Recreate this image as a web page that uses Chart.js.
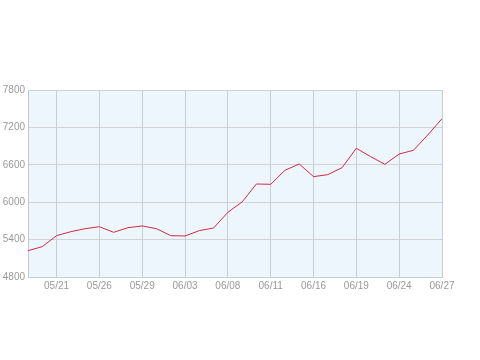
<!DOCTYPE html>
<html><head><meta charset="utf-8">
<script src="https://cdn.jsdelivr.net/npm/chart.js@4"></script>
<style>html,body{margin:0;padding:0;background:#fff;}canvas{display:block;}</style>
</head><body>
<canvas id="c" width="480" height="360"></canvas>
<script>
const dates = ['05/19','05/20','05/21','05/22','05/25','05/26','05/27','05/28','05/29','06/01',
  '06/02','06/03','06/04','06/05','06/08','06/09','06/10','06/11','06/12','06/15',
  '06/16','06/17','06/18','06/19','06/22','06/23','06/24','06/25','06/26','06/27'];
const values = [5222,5287,5463,5527,5575,5607,5517,5591,5619,5575,
  5463,5458,5544,5586,5838,6004,6292,6287,6512,6613,
  6410,6442,6554,6865,6731,6608,6773,6833,7078,7340];
const yTicks = [4800,5400,6000,6600,7200,7800];

const bgPlugin = {
  id:'bg',
  beforeDraw(chart){
    const a = chart.chartArea, ctx = chart.ctx;
    ctx.save(); ctx.fillStyle = '#eef6fd';
    ctx.fillRect(a.left, a.top, a.right-a.left, a.bottom-a.top);
    ctx.restore();
  }
};
const isTick = i => i % 3 === 2;
new Chart(document.getElementById('c'), {
  type:'line',
  data:{labels:dates, datasets:[{data:values, borderColor:'#d42a3c', borderWidth:1, pointRadius:0, tension:0, fill:false}]},
  options:{
    responsive:false, animation:false,
    layout:{padding:{left:0, right:38, top:90, bottom:65}},
    plugins:{legend:{display:false}, tooltip:{enabled:false}},
    scales:{
      x:{
        offset:false,
        grid:{color:(c)=> (c.index!==undefined && isTick(c.index)) ? '#c9ced6' : 'rgba(0,0,0,0)', drawTicks:false, lineWidth:1},
        border:{color:'#c9ced6'},
        ticks:{autoSkip:false, maxRotation:0, padding:3, color:'#999', font:{family:'Liberation Sans', size:10},
          callback:(v,i)=> isTick(i) ? dates[i] : ''},
        afterFit(s){ s.height = 18; }
      },
      y:{
        min:4800, max:7800,
        afterBuildTicks(s){ s.ticks = yTicks.map(v=>({value:v})); },
        grid:{color:'#cfd3d8', drawTicks:false},
        border:{color:'#c4c8cc'},
        ticks:{color:'#999', padding:3, font:{family:'Liberation Sans', size:10}, callback:(v)=>String(v)},
        afterFit(s){ s.width = 28; }
      }
    }
  },
  plugins:[bgPlugin]
});
</script>
</body></html>
